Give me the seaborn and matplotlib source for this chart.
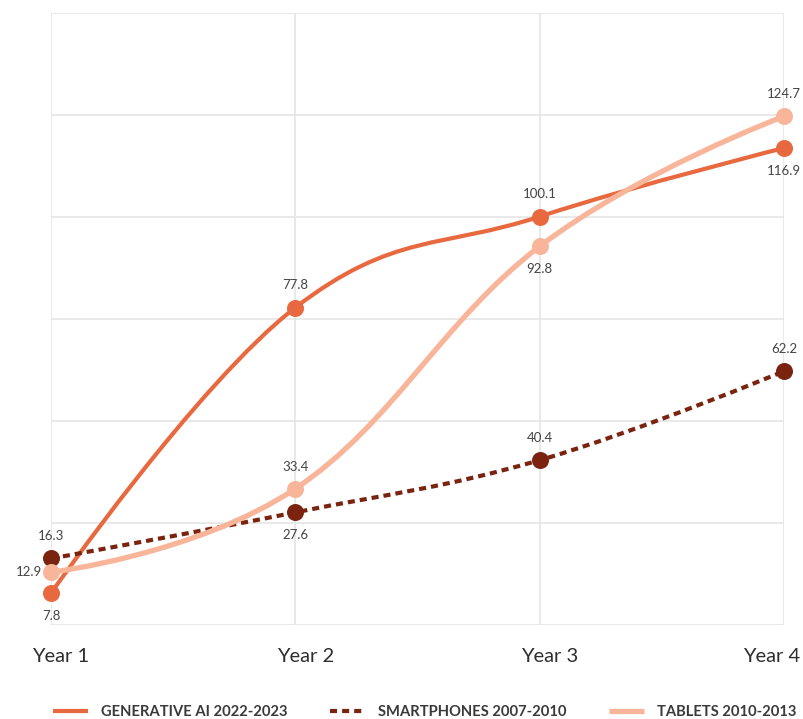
import numpy as np
import pandas as pd
import matplotlib
matplotlib.use("Agg")
import matplotlib.pyplot as plt
import matplotlib.transforms as mtrans
from matplotlib.path import Path
from matplotlib.patches import PathPatch
from matplotlib.lines import Line2D
import seaborn as sns

# ---- data ----
categories = ["Year 1", "Year 2", "Year 3", "Year 4"]
series_names = ["GENERATIVE AI 2022-2023", "SMARTPHONES 2007-2010", "TABLETS 2010-2013"]
generative_ai = [7.8, 77.8, 100.1, 116.9]
smartphones = [16.3, 27.6, 40.4, 62.2]
tablets = [12.9, 33.4, 92.8, 124.7]

# label placement per point: 'a' above, 'b' below, 'l' left
pos_gen = ["b", "a", "a", "b"]
pos_sp = ["a", "b", "a", "a"]
pos_tab = ["l", "a", "b", "a"]

colors = ["#E8693F", "#7A2410", "#F8B59A"]

sns.set_theme(style="white")
plt.rcParams["font.family"] = ["Lato", "DejaVu Sans"]

fig = plt.figure(figsize=(8.04, 7.19), dpi=100)
ax = fig.add_axes([51 / 804, 1 - 625 / 719, (784 - 51) / 804, (625 - 13) / 719])
ax.set_facecolor("white")
fig.patch.set_facecolor("white")


def spline_path(xs, ys):
    """Highcharts-style spline through the points (cubic Bezier)."""
    n = len(xs)
    sm, den = 1.5, 2.5
    left = [None] * n
    right = [None] * n
    for i in range(1, n - 1):
        x, y = xs[i], ys[i]
        lx, ly = xs[i - 1], ys[i - 1]
        nx, ny = xs[i + 1], ys[i + 1]
        lcx, lcy = (sm * x + lx) / den, (sm * y + ly) / den
        rcx, rcy = (sm * x + nx) / den, (sm * y + ny) / den
        if rcx != lcx:
            corr = ((rcy - lcy) * (rcx - x)) / (rcx - lcx) + y - rcy
            lcy += corr
            rcy += corr
        if lcy > ly and lcy > y:
            lcy = max(ly, y)
            rcy = 2 * y - lcy
        elif lcy < ly and lcy < y:
            lcy = min(ly, y)
            rcy = 2 * y - lcy
        if rcy > ny and rcy > y:
            rcy = max(ny, y)
            lcy = 2 * y - rcy
        elif rcy < ny and rcy < y:
            rcy = min(ny, y)
            lcy = 2 * y - rcy
        left[i] = (lcx, lcy)
        right[i] = (rcx, rcy)
    verts = [(xs[0], ys[0])]
    codes = [Path.MOVETO]
    for i in range(1, n):
        c1 = right[i - 1] if right[i - 1] is not None else (xs[i - 1], ys[i - 1])
        c2 = left[i] if left[i] is not None else (xs[i], ys[i])
        verts += [c1, c2, (xs[i], ys[i])]
        codes += [Path.CURVE4] * 3
    return Path(verts, codes)


xs = list(range(len(categories)))
all_series = [generative_ai, smartphones, tablets]
all_pos = [pos_gen, pos_sp, pos_tab]
line_w = [3.0, 3.0, 3.8]
line_styles = ["solid", (0, (1.7, 1.2)), "solid"]

rows = []
for name, vals in zip(series_names, all_series):
    for c, v in zip(categories, vals):
        rows.append({"series": name, "year": c, "x": categories.index(c), "value": v})
df = pd.DataFrame(rows)

for k, (name, vals) in enumerate(zip(series_names, all_series)):
    p = spline_path(xs, vals)
    patch = PathPatch(p, fill=False, edgecolor=colors[k], lw=line_w[k],
                      linestyle=line_styles[k], capstyle="butt",
                      zorder=3 + 2 * k, clip_on=False)
    ax.add_patch(patch)
    sub = df[df["series"] == name]
    sns.scatterplot(data=sub, x="x", y="value", color=colors[k], s=150,
                    linewidth=0, ax=ax, zorder=4 + 2 * k, clip_on=False,
                    legend=False)
    for x, v, pp in zip(xs, vals, all_pos[k]):
        if pp == "a":
            off, ha = (0, 16), "center"
        elif pp == "b":
            off, ha = (0, -16.5), "center"
        else:
            off, ha = (-6.5, 0), "right"
        ax.annotate(f"{v}", xy=(x, v), xytext=off, textcoords="offset points",
                    ha=ha, va="center", fontsize=9.5, color="#444444",
                    zorder=10, annotation_clip=False)

ax.set_xlim(0, 3)
ax.set_ylim(0, 150)
ax.set_xticks(xs)
ax.set_xticklabels(categories, fontsize=14.5, color="#2e2e2e")
ax.set_yticks(np.arange(0, 151, 25))
ax.set_yticklabels([])
ax.set_xlabel("")
ax.set_ylabel("")
ax.tick_params(axis="both", length=0)
ax.tick_params(axis="x", pad=16.5)
ax.grid(True, color="#e3e3e3", lw=1.1)
for s in ax.spines.values():
    s.set_visible(False)

for i, lab in enumerate(ax.get_xticklabels()):
    if i < 3:
        lab.set_transform(lab.get_transform() +
                          mtrans.ScaledTranslation(10 / 100, 0, fig.dpi_scale_trans))
    else:
        lab.set_horizontalalignment("right")
        lab.set_transform(lab.get_transform() +
                          mtrans.ScaledTranslation(16 / 100, 0, fig.dpi_scale_trans))

handles = [Line2D([0], [0], color=colors[k], lw=line_w[k], linestyle=line_styles[k],
                  solid_capstyle="butt", dash_capstyle="butt")
           for k in range(3)]
fig.legend(handles, series_names, loc="center", bbox_to_anchor=(0.528, 0.010),
           ncol=3, frameon=False, prop={"weight": "bold", "size": 10.6},
           labelcolor="#3a3a3a", handlelength=2.4, handletextpad=0.85,
           columnspacing=2.9)

fig.savefig("out.png", dpi=100, facecolor="white")
